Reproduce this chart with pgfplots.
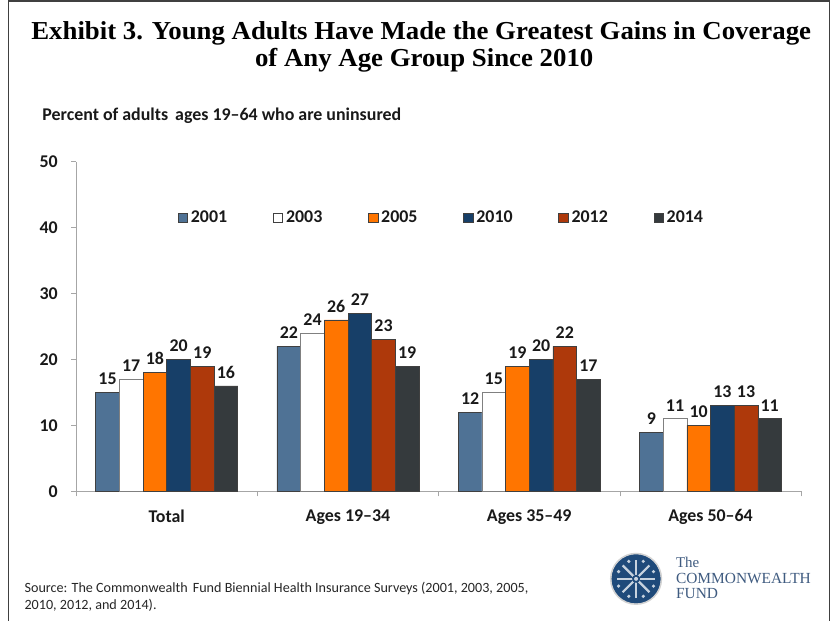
\documentclass[border=0pt]{standalone}
\usepackage{graphicx}
\usepackage{pgfplots}
\pgfplotsset{compat=1.18}
\usepackage{fontspec}
\setmainfont{Carlito}
\newfontfamily\titlefont{Liberation Serif}
\definecolor{c01}{HTML}{4F7295}
\definecolor{c03}{HTML}{FFFFFF}
\definecolor{c05}{HTML}{FF7500}
\definecolor{c10}{HTML}{173F68}
\definecolor{c12}{HTML}{AE390B}
\definecolor{c14}{HTML}{353A3D}
\definecolor{axgray}{HTML}{A6A6A6}
\definecolor{barline}{HTML}{404040}
\definecolor{logoblue}{HTML}{1F4A7A}
\definecolor{logotext}{HTML}{3F5B80}
\newlength\tw
\begin{document}
\settowidth\tw{\titlefont\bfseries\fontsize{26}{26}\selectfont Exhibit 3. Young Adults Have Made the Greatest Gains in Coverage}
\pgfmathsetmacro{\tsx}{784/\tw}
\begin{tikzpicture}
\useasboundingbox (0pt,0pt) rectangle (831pt,624pt);
\fill[white] (0pt,0pt) rectangle (831pt,624pt);
\draw[line width=1.5pt, black!75] (4pt,0pt) -- (4pt,623.2pt) -- (829.5pt,623.2pt) -- (829.5pt,0pt);
% title
\node[anchor=base, font=\titlefont\bfseries\fontsize{26}{26}\selectfont, xscale=\tsx, transform shape, inner sep=0pt] at (419pt,584pt) {Exhibit 3. Young Adults Have Made the Greatest Gains in Coverage};
\node[anchor=base, font=\titlefont\bfseries\fontsize{26}{26}\selectfont, xscale=\tsx, transform shape, inner sep=0pt] at (422pt,557pt) {of Any Age Group Since 2010};
% subtitle
\node[anchor=base west, inner sep=0pt, font=\bfseries\fontsize{18}{18}\selectfont, text=black!90] at (38pt,503pt) {Percent of adults\hspace{3pt} ages 19–64 who are uninsured};
% source
\node[anchor=base west, inner sep=0pt, font=\fontsize{14.2}{17}\selectfont, text=black!85] at (20pt,28pt) {Source: The Commonwealth\hspace{2pt} Fund Biennial Health Insurance Surveys (2001, 2003, 2005,};
\node[anchor=base west, inner sep=0pt, font=\fontsize{14.2}{17}\selectfont, text=black!85] at (20pt,11pt) {2010, 2012, and 2014).};
% logo
\fill[logoblue] (635pt,42pt) circle (25pt);
\draw[gray!35, line width=1.5pt] (635pt,42pt) circle (25.5pt);
\foreach \a in {0,45,...,315} {\draw[white!75!logoblue, line width=2.2pt] (635pt,42pt) -- ++(\a:19pt);}
\foreach \a in {22.5,67.5,...,337.5} {\fill[white!75!logoblue] (635pt,42pt) ++(\a:19pt) circle (1.8pt);}
\fill[logoblue] (635pt,42pt) circle (4pt);
\fill[white!75!logoblue] (635pt,42pt) circle (2pt);
\node[anchor=base west, inner sep=0pt, font=\titlefont\fontsize{15}{15}\selectfont, text=logotext] at (675pt,53pt) {The};
\node[anchor=base west, inner sep=0pt, font=\titlefont\fontsize{15.5}{15}\selectfont, text=logotext] at (675pt,37pt) {COMMONWEALTH};
\node[anchor=base west, inner sep=0pt, font=\titlefont\fontsize{15.5}{15}\selectfont, text=logotext] at (675pt,22pt) {FUND};
\begin{axis}[
  at={(72pt,130pt)}, anchor=south west,
  scale only axis, width=729pt, height=331.3pt,
  xmin=-0.5, xmax=3.5, ymin=0, ymax=50,
  axis x line*=bottom, axis y line*=left,
  axis line style={axgray, line width=0.8pt},
  tick style={axgray, line width=0.8pt},
  tick align=outside, major tick length=5pt,
  ytick={0,10,20,30,40,50},
  xtick={-0.5,0.5,1.5,2.5,3.5}, xticklabels={},
  extra x ticks={0,1,2,3},
  extra x tick labels={Total, Ages 19–34, Ages 35–49, Ages 50–64},
  extra x tick style={major tick length=0pt},
  /pgf/number format/assume math mode=true,
  yticklabel style={font=\bfseries\fontsize{18}{18}\selectfont, text=black!90, xshift=-10pt},
  xticklabel style={font=\bfseries\fontsize{18}{18}\selectfont, text=black!90, yshift=-15pt},
  ybar, bar width=23.8pt,
  every axis plot/.append style={draw=barline, line width=0.7pt,
    legend image code/.code={\draw[##1,draw=barline,line width=0.7pt] (0pt,-4.5pt) rectangle (9.5pt,4.5pt);}},
  nodes near coords,
  every node near coord/.append style={font=\bfseries\fontsize{18}{18}\selectfont, text=black!90, yshift=4pt},
  legend columns=6,
  legend style={at={(axis description cs:0.1399,0.830)}, anchor=west, draw=none, fill=none,
    font=\bfseries\fontsize{18}{18}\selectfont, inner sep=0pt, nodes={inner sep=1.5pt, text=black!90},
    /tikz/every odd column/.append style={column sep=1.5pt},
    /tikz/every even column/.append style={column sep=44.5pt}},
]
\addplot[fill=c01, bar shift=-59.5pt] coordinates {(0,15) (1,22) (2,12) (3,9)};
\addplot[fill=c03, draw=gray, bar shift=-35.7pt] coordinates {(0,17) (1,24) (2,15) (3,11)};
\addplot[fill=c05, bar shift=-11.9pt] coordinates {(0,18) (1,26) (2,19) (3,10)};
\addplot[fill=c10, bar shift=11.9pt] coordinates {(0,20) (1,27) (2,20) (3,13)};
\addplot[fill=c12, bar shift=35.7pt] coordinates {(0,19) (1,23) (2,22) (3,13)};
\addplot[fill=c14, bar shift=59.5pt] coordinates {(0,16) (1,19) (2,17) (3,11)};
\legend{2001,2003,2005,2010,2012,2014}
\end{axis}
\end{tikzpicture}
\end{document}
